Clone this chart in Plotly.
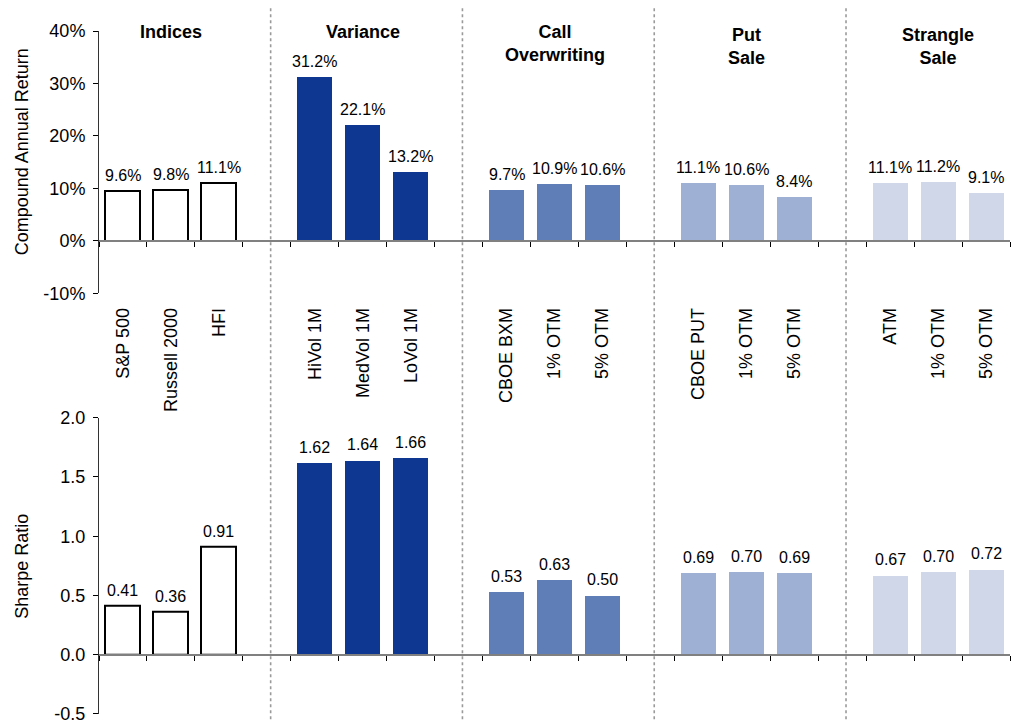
import plotly.graph_objects as go

# ---- data -------------------------------------------------------------
groups = ["Indices", "Variance", "Call<br>Overwriting", "Put<br>Sale", "Strangle<br>Sale"]
members = [
    ["S&P 500", "Russell 2000", "HFI"],
    ["HiVol 1M", "MedVol 1M", "LoVol 1M"],
    ["CBOE BXM", "1% OTM", "5% OTM"],
    ["CBOE PUT", "1% OTM", "5% OTM"],
    ["ATM", "1% OTM", "5% OTM"],
]
annual_return = [
    [0.096, 0.098, 0.111],
    [0.312, 0.221, 0.132],
    [0.097, 0.109, 0.106],
    [0.111, 0.106, 0.084],
    [0.111, 0.112, 0.091],
]
sharpe_ratio = [
    [0.41, 0.36, 0.91],
    [1.62, 1.64, 1.66],
    [0.53, 0.63, 0.50],
    [0.69, 0.70, 0.69],
    [0.67, 0.70, 0.72],
]
return_ticks = [-0.1, 0.0, 0.1, 0.2, 0.3, 0.4]
sharpe_ticks = [-0.5, 0.0, 0.5, 1.0, 1.5, 2.0]

# ---- style ------------------------------------------------------------
fills = ["#FFFFFF", "#0E3791", "#5F7EB7", "#9EB0D4", "#D0D7E9"]
FONT = "Arial, Liberation Sans, sans-serif"
W, H = 1011, 725
M_L, M_R, M_T, M_B = 99, 1, 31, 7
plot_h = H - M_T - M_B


def paper_y(py):
    return (H - M_B - py) / plot_h


top_dom = [paper_y(295), 1.0]
bot_dom = [0.0, paper_y(420)]
slots_per_group = len(members[0]) + 1
n_slots = slots_per_group * len(groups) - 1
x_range = [-0.5, n_slots - 0.5]
boundaries = [k - 0.5 for k in range(n_slots + 1)]

fig = go.Figure()

positions, labels = [], []
annotations = []
for g, (name, names) in enumerate(zip(groups, members)):
    xs = [g * slots_per_group + i for i in range(len(names))]
    positions += xs
    labels += names
    edge = dict(color="black", width=2) if g == 0 else dict(width=0)
    fig.add_trace(go.Bar(x=xs, y=annual_return[g], width=0.73,
                         marker=dict(color=fills[g], line=edge),
                         xaxis="x", yaxis="y", hoverinfo="skip"))
    fig.add_trace(go.Bar(x=xs, y=sharpe_ratio[g], width=0.73,
                         marker=dict(color=fills[g], line=edge),
                         xaxis="x2", yaxis="y2", hoverinfo="skip"))
    for x, v in zip(xs, annual_return[g]):
        annotations.append(dict(x=x, y=v, xref="x", yref="y", text=f"{v * 100:.1f}%",
                                showarrow=False, yanchor="bottom", yshift=5,
                                font=dict(size=16)))
    for x, v in zip(xs, sharpe_ratio[g]):
        annotations.append(dict(x=x, y=v, xref="x2", yref="y2", text=f"{v:.2f}",
                                showarrow=False, yanchor="bottom", yshift=5,
                                font=dict(size=16)))
    header_top = 20 if g < 3 else 23
    annotations.append(dict(x=xs[1], y=paper_y(header_top), xref="x", yref="paper",
                            text=f"<b>{name}</b>", showarrow=False, yanchor="top",
                            font=dict(size=18)))

# invisible carriers for the zero-line axes
for xa, ya in (("x3", "y"), ("x4", "y2")):
    fig.add_trace(go.Scatter(x=positions, y=[0] * len(positions), xaxis=xa, yaxis=ya,
                             mode="markers", marker=dict(opacity=0), hoverinfo="skip"))

# group separators
for g in range(len(groups) - 1):
    gx = g * slots_per_group + len(members[g]) + 0.08
    fig.add_shape(type="line", xref="x", yref="paper", x0=gx, x1=gx,
                  y0=paper_y(8), y1=paper_y(725),
                  line=dict(color="#9a9a9a", width=1.6, dash="dot"))

# axis titles
annotations.append(dict(x=0, y=paper_y(153), xref="paper", yref="paper", xshift=-77,
                        xanchor="center", yanchor="middle",
                        text="Compound Annual Return", textangle=-90, showarrow=False,
                        font=dict(size=18)))
annotations.append(dict(x=0, y=paper_y(570), xref="paper", yref="paper", xshift=-77,
                        xanchor="center", yanchor="middle",
                        text="Sharpe Ratio", textangle=-90, showarrow=False,
                        font=dict(size=18)))

common_x = dict(range=x_range, showgrid=False, zeroline=False, fixedrange=True)
zero_axis = dict(common_x, tickvals=boundaries, ticks="outside", ticklen=5, tickwidth=1.2,
                 tickcolor="black", showline=True, linecolor="#808080", linewidth=2,
                 showticklabels=False, anchor="free")
common_y = dict(showgrid=False, zeroline=False, showline=True, linecolor="#333333",
                linewidth=1, ticks="outside", ticklen=5, tickcolor="black",
                tickfont=dict(size=18), ticklabelstandoff=4)

fig.update_layout(
    width=W, height=H,
    margin=dict(l=M_L, r=M_R, t=M_T, b=M_B),
    paper_bgcolor="white", plot_bgcolor="white",
    font=dict(family=FONT, color="black"),
    showlegend=False, bargap=0,
    xaxis=dict(common_x, domain=[0, 1], anchor="y", tickvals=positions, ticktext=labels,
               tickangle=-90, ticks="", showline=False, tickfont=dict(size=18),
               ticklabelstandoff=10),
    xaxis2=dict(common_x, domain=[0, 1], anchor="y2", showticklabels=False, showline=False),
    xaxis3=dict(zero_axis, overlaying="x",
                position=top_dom[0] + 0.2 * (top_dom[1] - top_dom[0])),
    xaxis4=dict(zero_axis, overlaying="x2",
                position=bot_dom[0] + 0.2 * (bot_dom[1] - bot_dom[0])),
    yaxis=dict(common_y, domain=top_dom, anchor="x", range=[return_ticks[0], return_ticks[-1]],
               tickvals=return_ticks, ticktext=[f"{v * 100:.0f}%" for v in return_ticks]),
    yaxis2=dict(common_y, domain=bot_dom, anchor="x2", range=[sharpe_ticks[0], sharpe_ticks[-1]],
                tickvals=sharpe_ticks, ticktext=[f"{v:.1f}" for v in sharpe_ticks]),
    annotations=annotations,
)

fig.write_html("out.html")
